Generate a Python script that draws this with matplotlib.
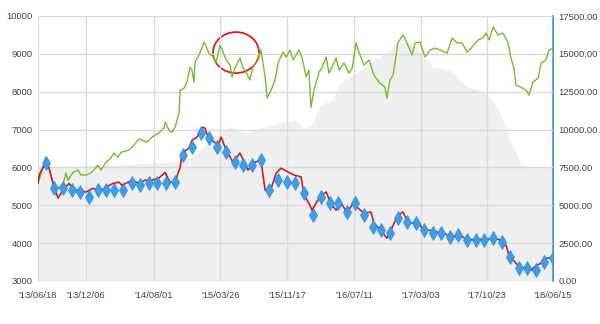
import numpy as np
import pandas as pd
import matplotlib
matplotlib.use("Agg")
import matplotlib.pyplot as plt
import matplotlib.dates as mdates
from matplotlib.patches import Ellipse

plt.rcParams['font.family'] = ['Liberation Sans', 'DejaVu Sans']

start = pd.Timestamp('2013-06-18')

# fund price (red line), day offsets from start
red_days = [0, 4, 18, 28, 39, 57, 71, 89, 110, 127, 145, 170, 195, 216, 241, 266, 287, 297, 333, 358,
            379, 404, 428, 450, 467, 485, 503, 510, 535, 545, 563, 581, 591, 602, 637, 648, 666, 690, 715, 743,
            768, 789, 804, 821, 843, 860, 885, 906, 931, 942, 959, 970, 984, 1002, 1020, 1037, 1055, 1073, 1094, 1119,
            1129, 1154, 1179, 1189, 1214, 1235, 1246, 1257, 1274, 1292, 1310, 1328, 1342, 1363, 1388, 1412, 1434, 1458, 1494, 1519,
            1551, 1586, 1611, 1639, 1657, 1667, 1692, 1710, 1728, 1745, 1763, 1781, 1798, 1823]
red_vals = [5580, 5800, 6000, 6250, 5980, 5480, 5190, 5400, 5580, 5400, 5400, 5350, 5450, 5350, 5480, 5580, 5610, 5530, 5660, 5580,
            5660, 5660, 5720, 5870, 5610, 5610, 6000, 6380, 6510, 6720, 6800, 7060, 7040, 6800, 6590, 6800, 6460, 6140, 6380, 5930,
            6140, 6190, 5400, 5350, 5850, 5980, 5880, 5800, 5750, 5270, 5050, 4870, 5050, 5270, 5350, 5050, 4870, 5050, 4820, 5080,
            4950, 4790, 4820, 4530, 4340, 4130, 4290, 4470, 4740, 4820, 4550, 4530, 4610, 4340, 4340, 4290, 4290, 4160, 4210, 4080,
            4100, 4100, 4130, 4080, 3940, 3680, 3470, 3330, 3360, 3280, 3410, 3470, 3600, 3620]

# benchmark (green line)
green_days = [0, 18, 28, 39, 57, 71, 89, 99, 106, 124, 142, 152, 170, 188, 212, 223, 241, 258, 269, 283,
              294, 322, 340, 358, 368, 386, 404, 414, 428, 446, 450, 464, 474, 485, 499, 503, 517, 527, 538, 545,
              552, 556, 573, 588, 598, 605, 620, 630, 644, 655, 666, 680, 687, 697, 715, 726, 736, 750, 761, 779,
              789, 804, 811, 825, 839, 850, 867, 878, 892, 903, 924, 935, 949, 959, 966, 977, 995, 1005, 1020, 1030,
              1041, 1055, 1066, 1083, 1101, 1112, 1126, 1136, 1154, 1172, 1189, 1207, 1228, 1235, 1246, 1257, 1267, 1274, 1292, 1306,
              1324, 1335, 1352, 1370, 1388, 1405, 1423, 1448, 1466, 1483, 1501, 1519, 1533, 1558, 1575, 1586, 1597, 1611, 1628, 1646,
              1664, 1674, 1685, 1692, 1710, 1728, 1738, 1752, 1770, 1781, 1798, 1809, 1823]
green_vals = [5580, 6000, 6250, 5980, 5480, 5450, 5580, 5850, 5660, 5870, 5930, 5800, 5800, 5850, 6060, 5930, 6140, 6250, 6380, 6270,
              6400, 6460, 6590, 6750, 6720, 6670, 6800, 6850, 6910, 7040, 7200, 6980, 6930, 7060, 7430, 8040, 8090, 8250, 8650, 8570,
              8250, 8780, 9020, 9310, 9150, 9020, 8920, 8760, 9230, 9050, 8840, 8700, 8390, 8620, 8890, 8620, 8520, 8310, 8650, 8840,
              9100, 8390, 7830, 8040, 8310, 8760, 9050, 8920, 9100, 8840, 9100, 8890, 8390, 8570, 7590, 8040, 8520, 8620, 8920, 8490,
              8650, 8890, 8570, 8760, 8490, 8620, 9290, 9050, 8700, 8840, 8440, 8250, 8120, 7830, 8310, 8440, 8920, 9290, 9500, 9290,
              8970, 9290, 9310, 8920, 9100, 9150, 9100, 9020, 9420, 9290, 9290, 9050, 9150, 9370, 9420, 9550, 9370, 9710, 9500, 9550,
              9290, 8890, 8620, 8170, 8120, 8040, 7910, 8250, 8360, 8760, 8840, 9100, 9150]

# net assets (grey area, right axis)
area_days = [0, 149, 290, 396, 485, 538, 573, 602, 644, 680, 733, 786, 857, 910, 945, 970, 998, 1044, 1069,
             1129, 1186, 1235, 1271, 1299, 1328, 1352, 1377, 1398, 1458, 1519, 1565, 1600, 1636, 1671, 1696, 1710, 1738, 1823]
area_vals = [7530, 7600, 7660, 7790, 7860, 8120, 8650, 9110, 9770, 10170, 9770, 10100, 10430, 10630, 10100, 10300, 11620, 11950, 13080,
             13740, 14590, 15060, 15720, 15920, 15590, 15060, 14590, 14130, 13930, 12810, 12610, 12150, 11090, 9310, 8320, 7660, 7460, 7530]

# monthly points (blue diamonds)
mark_vals = [6117, 5457, 5457, 5404, 5351, 5219, 5404, 5404, 5404, 5404, 5589, 5536, 5589, 5589, 5589, 5615, 6329, 6540, 6910, 6778,
             6540, 6408, 6144, 6064, 6064, 6197, 5404, 5668, 5615, 5589, 5325, 4744, 5219, 5061, 5061, 4823, 5061, 4744, 4427, 4348,
             4268, 4665, 4559, 4533, 4348, 4268, 4268, 4163, 4215, 4083, 4083, 4083, 4136, 4031, 3634, 3344, 3344, 3291, 3502, 3608]
mark_dates = [pd.Timestamp('2013-07-15') + pd.DateOffset(months=i) for i in range(len(mark_vals))]

tick_dates = ['2013-06-18', '2013-12-06', '2014-08-01', '2015-03-26', '2015-11-17',
              '2016-07-11', '2017-03-03', '2017-10-23', '2018-06-15']

red_x = start + pd.to_timedelta(red_days, unit='D')
green_x = start + pd.to_timedelta(green_days, unit='D')
area_x = start + pd.to_timedelta(area_days, unit='D')

fig = plt.figure(figsize=(6, 3.24), dpi=100)
ax = fig.add_axes([38/600, 1-281/324, 515/600, 265/324])
ax2 = ax.twinx()
ax.set_zorder(ax2.get_zorder() + 1)
ax.patch.set_visible(False)

ax2.fill_between(area_x, area_vals, 0, color='#efefef', lw=0)
ax2.set_ylim(0, 17500)
ax2.set_yticks(np.arange(0, 17501, 2500))
ax2.set_yticklabels(['%.2f' % v for v in np.arange(0, 17501, 2500)])

ax.plot(green_x, green_vals, color='#77bb2e', lw=1.0)
ax.plot(red_x, red_vals, color='#cc2020', lw=1.2)
ax.plot(mark_dates, mark_vals, ls='none', marker='d', ms=7.5, color='#3a9fec', mec='#2a86d6', mew=0.5)

ax.set_ylim(3000, 10000)
ax.set_yticks(range(3000, 10001, 1000))
ax.set_xlim(pd.Timestamp(tick_dates[0]), pd.Timestamp(tick_dates[-1]))
ax.set_xticks([pd.Timestamp(d) for d in tick_dates])
ax.xaxis.set_major_formatter(mdates.DateFormatter("'%y/%m/%d"))

ax.grid(True, color='#d9d9d9', lw=1)
for a in (ax, ax2):
    for s in a.spines.values():
        s.set_visible(False)
ax2.spines['right'].set_visible(True)
ax2.spines['right'].set_color('#2a8ad4')
ax2.spines['right'].set_linewidth(1.2)

ax.tick_params(axis='y', length=0, pad=4, labelsize=6.8, labelcolor='#444444')
ax.tick_params(axis='x', length=0, pad=7, labelsize=6.8, labelcolor='#444444')
ax2.tick_params(axis='y', length=0, pad=4, labelsize=6.8, labelcolor='#444444')

ax.add_patch(Ellipse((0.3845, 0.862), 0.0893, 0.1547, transform=ax.transAxes,
                     fill=False, edgecolor='#d81e1e', lw=1.3))

fig.savefig('out.png', dpi=100)
